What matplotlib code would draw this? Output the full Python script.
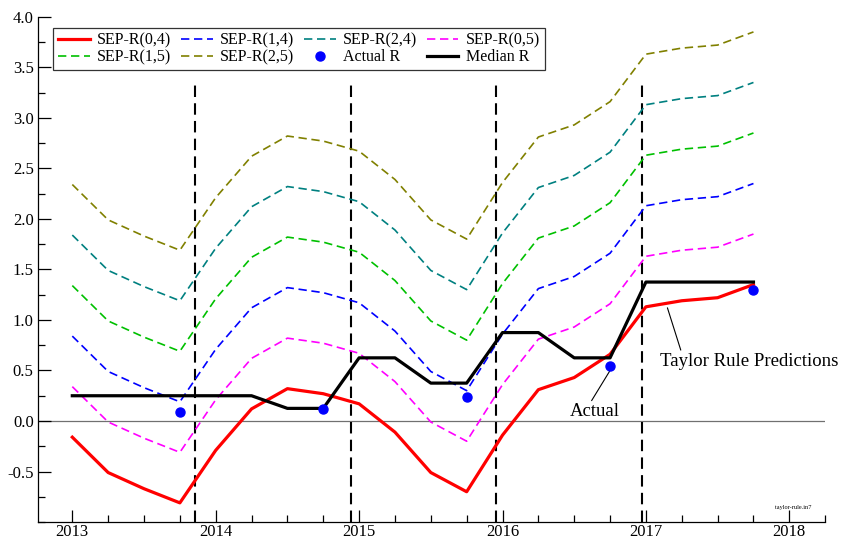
import numpy as np
import matplotlib
matplotlib.use("Agg")
from matplotlib import pyplot as plt
from matplotlib.ticker import MultipleLocator, FixedLocator

plt.rcParams["font.family"] = ["Liberation Serif", "DejaVu Serif"]

# quarterly dates, 2013Q1 .. 2017Q4
dates = [2013.0, 2013.25, 2013.5, 2013.75, 2014.0, 2014.25, 2014.5, 2014.75,
         2015.0, 2015.25, 2015.5, 2015.75, 2016.0, 2016.25, 2016.5, 2016.75,
         2017.0, 2017.25, 2017.5, 2017.75]

sep_r_04 = [-0.16, -0.51, -0.67, -0.81, -0.29, 0.12, 0.32, 0.27,
            0.17, -0.11, -0.51, -0.70, -0.14, 0.31, 0.43, 0.66,
            1.13, 1.19, 1.22, 1.35]
sep_r_14 = [0.84, 0.49, 0.33, 0.19, 0.71, 1.12, 1.32, 1.27,
            1.17, 0.89, 0.49, 0.30, 0.86, 1.31, 1.43, 1.66,
            2.13, 2.19, 2.22, 2.35]
sep_r_24 = [1.84, 1.49, 1.33, 1.19, 1.71, 2.12, 2.32, 2.27,
            2.17, 1.89, 1.49, 1.30, 1.86, 2.31, 2.43, 2.66,
            3.13, 3.19, 3.22, 3.35]
sep_r_05 = [0.34, -0.01, -0.17, -0.31, 0.21, 0.62, 0.82, 0.77,
            0.67, 0.39, -0.01, -0.20, 0.36, 0.81, 0.93, 1.16,
            1.63, 1.69, 1.72, 1.85]
sep_r_15 = [1.34, 0.99, 0.83, 0.69, 1.21, 1.62, 1.82, 1.77,
            1.67, 1.39, 0.99, 0.80, 1.36, 1.81, 1.93, 2.16,
            2.63, 2.69, 2.72, 2.85]
sep_r_25 = [2.34, 1.99, 1.83, 1.69, 2.21, 2.62, 2.82, 2.77,
            2.67, 2.39, 1.99, 1.80, 2.36, 2.81, 2.93, 3.16,
            3.63, 3.69, 3.72, 3.85]
median_r = [0.25, 0.25, 0.25, 0.25, 0.25, 0.25, 0.125, 0.125,
            0.625, 0.625, 0.375, 0.375, 0.875, 0.875, 0.625, 0.625,
            1.375, 1.375, 1.375, 1.375]

actual_dates = [2013.75, 2014.75, 2015.75, 2016.75, 2017.75]
actual_r = [0.09, 0.12, 0.24, 0.54, 1.30]

# forecast dates (December meetings)
vlines = [2013.855, 2014.945, 2015.953, 2016.972]

y_ticks = [-0.5, 0.0, 0.5, 1.0, 1.5, 2.0, 2.5, 3.0, 3.5, 4.0]

fig = plt.figure(figsize=(8.42, 5.41), dpi=100)
ax = fig.add_axes([0.045, 0.035, 0.935, 0.934])

dash = (5, 2.8)
ax.axhline(0, color="#707070", lw=0.9, zorder=1)
for v in vlines:
    ax.axvline(v, ymin=0, ymax=0.864, color="black", lw=1.5, dashes=(5.5, 3), zorder=2)

h1, = ax.plot(dates, sep_r_04, color="#ff0000", lw=2.3, label="SEP-R(0,4)", zorder=4)
h2, = ax.plot(dates, sep_r_14, color="#0000ff", lw=1.2, dashes=dash, label="SEP-R(1,4)")
h3, = ax.plot(dates, sep_r_24, color="#008080", lw=1.2, dashes=dash, label="SEP-R(2,4)")
h4, = ax.plot(dates, sep_r_05, color="#ff00ff", lw=1.2, dashes=dash, label="SEP-R(0,5)")
h5, = ax.plot(dates, sep_r_15, color="#00c000", lw=1.2, dashes=dash, label="SEP-R(1,5)")
h6, = ax.plot(dates, sep_r_25, color="#808000", lw=1.2, dashes=dash, label="SEP-R(2,5)")
h7, = ax.plot(actual_dates, actual_r, "o", color="#0000ff", ms=6.5, label="Actual R", zorder=6)
h8, = ax.plot(dates, median_r, color="black", lw=2.3, label="Median R", zorder=5)

handles = [h1, h5, h2, h6, h3, h7, h4, h8]
leg = ax.legend(handles=handles, ncol=4, loc="upper left", bbox_to_anchor=(0.019, 0.978),
                fontsize=11.5, frameon=True, fancybox=False, edgecolor="black",
                handlelength=2.0, handletextpad=0.45, columnspacing=0.6,
                borderpad=0.3, labelspacing=0.05, borderaxespad=0)
leg.get_frame().set_linewidth(0.9)

ax.annotate("Taylor Rule Predictions", xy=(2017.15, 1.12), xytext=(2017.1, 0.59),
            fontsize=13.5, ha="left", va="center",
            arrowprops=dict(arrowstyle="-", color="black", lw=0.8, shrinkA=0, shrinkB=0,
                            relpos=(0.12, 1.0)))
ax.annotate("Actual", xy=(2016.75, 0.5), xytext=(2016.47, 0.09),
            fontsize=13.5, ha="left", va="center",
            arrowprops=dict(arrowstyle="-", color="black", lw=0.8, shrinkA=0, shrinkB=0,
                            relpos=(0.4, 1.0)))
ax.text(2018.03, -0.86, "taylor-rule.in7", fontsize=4.5, ha="center", va="center")

ax.set_xlim(2012.76, 2018.25)
ax.set_ylim(-1.0, 4.0)
ax.xaxis.set_major_locator(MultipleLocator(1))
ax.xaxis.set_minor_locator(MultipleLocator(0.25))
ax.yaxis.set_major_locator(FixedLocator(y_ticks))
ax.yaxis.set_minor_locator(MultipleLocator(0.25))
ax.xaxis.set_major_formatter(plt.FuncFormatter(lambda v, p: f"{v:.0f}"))
ax.yaxis.set_major_formatter(plt.FuncFormatter(lambda v, p: f"{v:.1f}"))
ax.tick_params(which="both", direction="in", labelsize=12, width=0.9)
ax.tick_params(which="major", length=9)
ax.tick_params(axis="x", which="major", pad=1.5)
ax.tick_params(axis="y", which="major", pad=3)
ax.tick_params(which="minor", length=5)
ax.spines["top"].set_visible(False)
ax.spines["right"].set_visible(False)
ax.spines["left"].set_linewidth(0.9)
ax.spines["bottom"].set_linewidth(0.9)

plt.savefig("out.png", dpi=100)
